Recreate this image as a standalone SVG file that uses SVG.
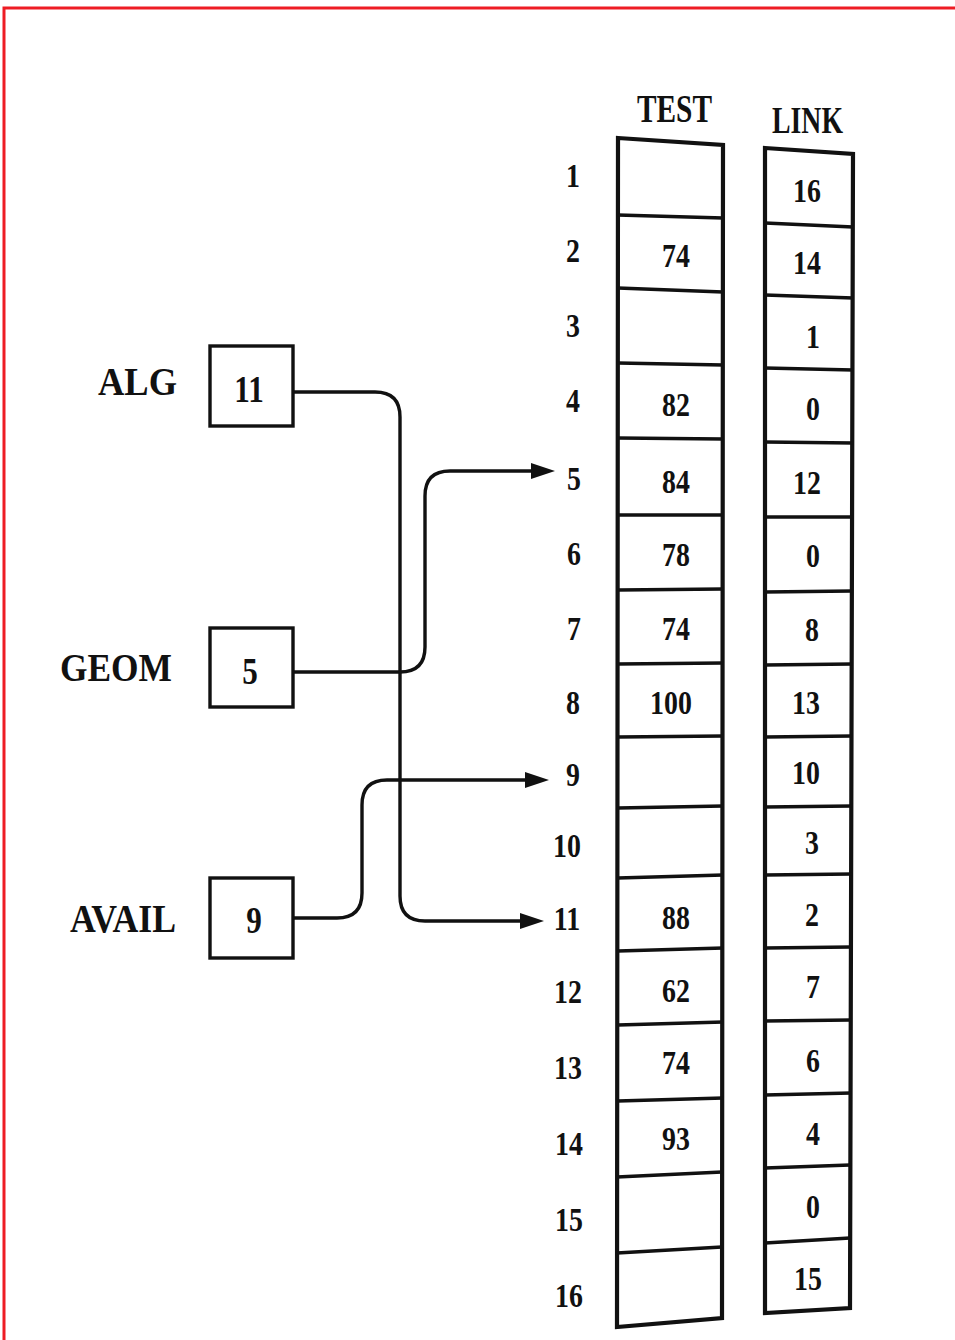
<svg xmlns="http://www.w3.org/2000/svg" width="955" height="1340" viewBox="0 0 955 1340">
<defs>
<style>
.bg{fill:#fff}
.frame{fill:none;stroke:#ee1c24;stroke-width:3}
.col{fill:none;stroke:#111;stroke-width:4.2;stroke-linejoin:miter}
.div{stroke:#111;stroke-width:3.6}
.box{fill:none;stroke:#111;stroke-width:3.4}
.conn{fill:none;stroke:#111;stroke-width:3.4}
.lbl{font-family:"Liberation Serif","Times New Roman",serif;font-weight:bold;fill:#111;font-size:40px}
.head{font-family:"Liberation Serif","Times New Roman",serif;font-weight:bold;fill:#111}
.num{font-family:"Liberation Serif","Times New Roman",serif;font-weight:bold;fill:#111;font-size:34px;text-anchor:middle;transform-box:fill-box;transform-origin:center;transform:scaleX(0.82)}
.bnum{font-size:38px}
</style>
<marker id="arr" markerUnits="userSpaceOnUse" viewBox="0 0 24 16" markerWidth="24" markerHeight="16" refX="13" refY="8" orient="auto">
<path d="M0,0 L24,8 L0,16 z" fill="#111"/>
</marker>
</defs>
<rect class="bg" x="0" y="0" width="955" height="1340"/>
<path class="frame" d="M4 1340 V8 H955"/>

<g id="headers">
<text class="head" x="637" y="122" font-size="41" textLength="75" lengthAdjust="spacingAndGlyphs">TEST</text>
<text class="head" x="772" y="133" font-size="38" textLength="71" lengthAdjust="spacingAndGlyphs">LINK</text>
</g>

<g id="test-column">
<path class="col" d="M618 138 L723 145 L722 1318 L617 1327 Z"/>
<g>
<line class="div" x1="618" y1="215" x2="723" y2="218"/>
<line class="div" x1="618" y1="288" x2="723" y2="292"/>
<line class="div" x1="618" y1="363" x2="723" y2="365"/>
<line class="div" x1="618" y1="438" x2="723" y2="439"/>
<line class="div" x1="618" y1="515" x2="723" y2="515"/>
<line class="div" x1="618" y1="590" x2="723" y2="589"/>
<line class="div" x1="618" y1="664" x2="723" y2="663"/>
<line class="div" x1="618" y1="737" x2="723" y2="736"/>
<line class="div" x1="618" y1="808" x2="723" y2="806"/>
<line class="div" x1="618" y1="878" x2="723" y2="875"/>
<line class="div" x1="618" y1="951" x2="723" y2="948"/>
<line class="div" x1="618" y1="1025" x2="723" y2="1022"/>
<line class="div" x1="618" y1="1101" x2="723" y2="1098"/>
<line class="div" x1="617" y1="1177" x2="722" y2="1172"/>
<line class="div" x1="617" y1="1253" x2="722" y2="1247"/>
</g>
<text class="num" x="676" y="267">74</text>
<text class="num" x="676" y="416">82</text>
<text class="num" x="676" y="493">84</text>
<text class="num" x="676" y="566">78</text>
<text class="num" x="676" y="640">74</text>
<text class="num" x="671" y="714">100</text>
<text class="num" x="676" y="929">88</text>
<text class="num" x="676" y="1002">62</text>
<text class="num" x="676" y="1074">74</text>
<text class="num" x="676" y="1150">93</text>
</g>

<g id="link-column">
<path class="col" d="M765 148 L853 154 L850 1308 L765 1313 Z"/>
<g>
<line class="div" x1="765" y1="223" x2="853" y2="227"/>
<line class="div" x1="765" y1="295" x2="853" y2="298"/>
<line class="div" x1="765" y1="368" x2="853" y2="370"/>
<line class="div" x1="765" y1="442" x2="853" y2="443"/>
<line class="div" x1="765" y1="517" x2="853" y2="517"/>
<line class="div" x1="765" y1="592" x2="852" y2="591"/>
<line class="div" x1="765" y1="665" x2="852" y2="664"/>
<line class="div" x1="765" y1="737" x2="852" y2="736"/>
<line class="div" x1="765" y1="807" x2="852" y2="806"/>
<line class="div" x1="765" y1="875" x2="852" y2="874"/>
<line class="div" x1="765" y1="948" x2="851" y2="947"/>
<line class="div" x1="765" y1="1021" x2="851" y2="1020"/>
<line class="div" x1="765" y1="1095" x2="851" y2="1093"/>
<line class="div" x1="765" y1="1168" x2="850" y2="1165"/>
<line class="div" x1="765" y1="1243" x2="850" y2="1238"/>
</g>
<text class="num" x="807" y="202">16</text>
<text class="num" x="807" y="274">14</text>
<text class="num" x="813" y="348">1</text>
<text class="num" x="813" y="420">0</text>
<text class="num" x="807" y="494">12</text>
<text class="num" x="813" y="567">0</text>
<text class="num" x="812" y="641">8</text>
<text class="num" x="806" y="714">13</text>
<text class="num" x="806" y="784">10</text>
<text class="num" x="812" y="854">3</text>
<text class="num" x="812" y="926">2</text>
<text class="num" x="813" y="998">7</text>
<text class="num" x="813" y="1072">6</text>
<text class="num" x="813" y="1145">4</text>
<text class="num" x="813" y="1218">0</text>
<text class="num" x="808" y="1290">15</text>
</g>

<g id="indices">
<text class="num" x="573" y="187">1</text>
<text class="num" x="573" y="262">2</text>
<text class="num" x="573" y="337">3</text>
<text class="num" x="573" y="412">4</text>
<text class="num" x="574" y="490">5</text>
<text class="num" x="574" y="565">6</text>
<text class="num" x="574" y="640">7</text>
<text class="num" x="573" y="714">8</text>
<text class="num" x="573" y="786">9</text>
<text class="num" x="567" y="857">10</text>
<text class="num" x="567" y="930">11</text>
<text class="num" x="568" y="1003">12</text>
<text class="num" x="568" y="1079">13</text>
<text class="num" x="569" y="1155">14</text>
<text class="num" x="569" y="1231">15</text>
<text class="num" x="569" y="1307">16</text>
</g>

<g id="alg">
<text class="lbl" x="98" y="395" textLength="79" lengthAdjust="spacingAndGlyphs">ALG</text>
<rect class="box" x="210" y="346" width="83" height="80"/>
<text class="num bnum" x="249" y="402">11</text>
</g>

<g id="geom">
<text class="lbl" x="60" y="681" textLength="112" lengthAdjust="spacingAndGlyphs">GEOM</text>
<rect class="box" x="210" y="628" width="83" height="79"/>
<text class="num bnum" x="250" y="684">5</text>
</g>

<g id="avail">
<text class="lbl" x="70" y="932" textLength="106" lengthAdjust="spacingAndGlyphs">AVAIL</text>
<rect class="box" x="210" y="878" width="83" height="80"/>
<text class="num bnum" x="254" y="933">9</text>
</g>

<g id="connectors">
<path class="conn" marker-end="url(#arr)" d="M293 392 H375 Q400 392 400 417 V896 Q400 921 425 921 H533"/>
<path class="conn" marker-end="url(#arr)" d="M293 672 H400 Q425 672 425 647 V496 Q425 471 450 471 H544"/>
<path class="conn" marker-end="url(#arr)" d="M293 918 H337 Q362 918 362 893 V805 Q362 780 387 780 H538"/>
</g>
</svg>
